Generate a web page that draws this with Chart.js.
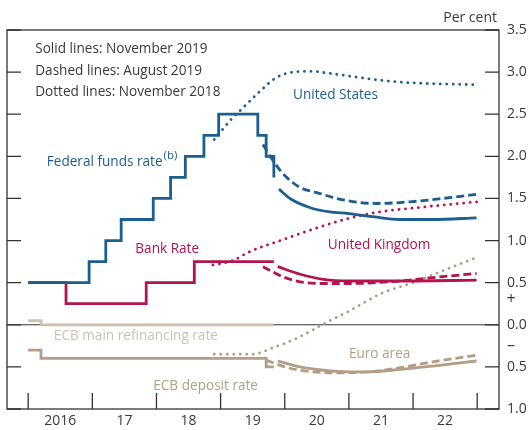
<!DOCTYPE html>
<html lang="en">

<head>
  <meta charset="UTF-8" />
  <title>Policy rates and forward curves</title>
  <script src="https://cdn.jsdelivr.net/npm/chart.js"></script>
  <style>
    html,
    body {
      margin: 0;
      padding: 0;
      background: #fff;
    }

    #wrap {
      width: 529px;
      height: 430px;
    }
  </style>
</head>

<body>
  <div id="wrap"><canvas id="ratesChart"></canvas></div>

  <script>
    // x values are decimal years
    const yearLabels = ['2016', '17', '18', '19', '20', '21', '22'];
    const yearStarts = [2016, 2017, 2018, 2019, 2020, 2021, 2022, 2023];

    // policy rates (step lines)
    const fedDates = [2016.0, 2016.95, 2017.21, 2017.45, 2017.95, 2018.22, 2018.45, 2018.74, 2018.97, 2019.58, 2019.71, 2019.83];
    const fedRate = [0.5, 0.75, 1.0, 1.25, 1.5, 1.75, 2.0, 2.25, 2.5, 2.25, 2.0, 1.75];
    const bankRateDates = [2016.0, 2016.59, 2017.84, 2018.59, 2019.83];
    const bankRate = [0.5, 0.25, 0.5, 0.75, 0.75];
    const ecbRefiDates = [2016.0, 2016.2, 2019.83];
    const ecbRefi = [0.05, 0.0, 0.0];
    const ecbDepositDates = [2016.0, 2016.2, 2019.71, 2019.83];
    const ecbDeposit = [-0.3, -0.4, -0.5, -0.5];

    // United States forward curves
    const usNov19Dates = [2019.91, 2020.1, 2020.4, 2020.7, 2021.0, 2021.4, 2021.8, 2022.3, 2022.99];
    const usNov19 = [1.61, 1.49, 1.39, 1.34, 1.32, 1.28, 1.25, 1.25, 1.27];
    const usAug19Dates = [2019.66, 2019.88, 2020.03, 2020.24, 2020.5, 2020.86, 2021.44, 2021.95, 2022.46, 2022.99];
    const usAug19 = [2.14, 1.88, 1.75, 1.63, 1.57, 1.49, 1.44, 1.46, 1.5, 1.55];
    const usNov18Dates = [2018.9, 2019.19, 2019.3, 2019.61, 2019.88, 2020.13, 2020.39, 2020.75, 2021.53, 2022.06, 2022.99];
    const usNov18 = [2.2, 2.46, 2.54, 2.77, 2.94, 3.0, 3.01, 2.98, 2.9, 2.87, 2.85];

    // United Kingdom forward curves
    const ukNov19Dates = [2019.89, 2020.24, 2020.6, 2021.02, 2021.8, 2022.99];
    const ukNov19 = [0.69, 0.6, 0.54, 0.52, 0.52, 0.53];
    const ukAug19Dates = [2019.66, 2019.97, 2020.24, 2020.55, 2021.02, 2021.8, 2022.31, 2022.99];
    const ukAug19 = [0.69, 0.57, 0.51, 0.49, 0.49, 0.52, 0.56, 0.61];
    const ukNov18Dates = [2018.88, 2019.18, 2019.46, 2019.97, 2020.5, 2020.98, 2021.48, 2022.06, 2022.99];
    const ukNov18 = [0.71, 0.76, 0.87, 1.01, 1.15, 1.26, 1.34, 1.39, 1.46];

    // Euro area forward curves
    const euNov19Dates = [2019.89, 2020.24, 2020.6, 2021.02, 2021.28, 2021.8, 2022.31, 2022.99];
    const euNov19 = [-0.43, -0.5, -0.54, -0.56, -0.56, -0.53, -0.49, -0.43];
    const euAug19Dates = [2019.71, 2020.0, 2020.24, 2020.75, 2021.28, 2021.8, 2022.31, 2022.99];
    const euAug19 = [-0.42, -0.5, -0.54, -0.57, -0.56, -0.51, -0.44, -0.36];
    const euNov18Dates = [2018.9, 2019.5, 2019.82, 2020.13, 2020.39, 2020.58, 2020.97, 2021.53, 2022.0, 2022.46, 2022.99];
    const euNov18 = [-0.35, -0.35, -0.27, -0.18, -0.08, 0.0, 0.15, 0.38, 0.5, 0.64, 0.8];

    const BLUE = '#1b5e90';
    const RED = '#b3134e';
    const TAN = '#b39d86';
    const TAN_LIGHT = '#cdc0b2';
    const TEXT = '#3a3a3a';
    const FONT = "'Open Sans', sans-serif";
    const NOTE_FONT = '13.6px ' + FONT;

    function pts(dates, values) {
      return dates.map((d, i) => ({ x: d, y: values[i] }));
    }

    function line(label, dates, values, color, style) {
      const ds = {
        label: label,
        data: pts(dates, values),
        borderColor: color,
        borderWidth: 2.8,
        pointRadius: 0,
        fill: false
      };
      if (style === 'step') {
        ds.stepped = true;
        ds.borderJoinStyle = 'miter';
      } else {
        ds.cubicInterpolationMode = 'monotone';
      }
      if (style === 'dashed') ds.borderDash = [8, 4];
      if (style === 'dotted') {
        ds.borderDash = [0.1, 6.4];
        ds.borderCapStyle = 'round';
      }
      return ds;
    }

    const notes = [
      { text: 'Solid lines: November 2019', x: 2016.11, y: 3.27, color: TEXT },
      { text: 'Dashed lines: August 2019', x: 2016.11, y: 3.01, color: TEXT },
      { text: 'Dotted lines: November 2018', x: 2016.11, y: 2.76, color: TEXT },
      { text: 'Federal funds rate', sup: '(b)', x: 2016.29, y: 1.93, color: BLUE },
      { text: 'United States', x: 2020.13, y: 2.73, color: BLUE },
      { text: 'Bank Rate', x: 2017.67, y: 0.9, color: RED },
      { text: 'United Kingdom', x: 2020.67, y: 0.95, color: RED },
      { text: 'ECB main refinancing rate', x: 2016.4, y: -0.14, color: TAN_LIGHT },
      { text: 'ECB deposit rate', x: 2017.95, y: -0.73, color: TAN },
      { text: 'Euro area', x: 2021.0, y: -0.35, color: TAN }
    ];

    const decorations = {
      id: 'decorations',
      beforeDatasetsDraw(chart) {
        const { ctx, chartArea: a, scales: { x, y } } = chart;
        ctx.save();
        ctx.strokeStyle = '#333';
        ctx.lineWidth = 1.3;
        ctx.strokeRect(a.left, a.top, a.right - a.left, a.bottom - a.top);

        // zero line
        const y0 = y.getPixelForValue(0);
        ctx.lineWidth = 1;
        ctx.beginPath();
        ctx.moveTo(a.left, y0);
        ctx.lineTo(a.right, y0);
        ctx.stroke();

        // tick marks drawn inside the frame
        ctx.lineWidth = 1.3;
        ctx.beginPath();
        y.ticks.forEach(t => {
          const py = y.getPixelForValue(t.value);
          ctx.moveTo(a.left, py);
          ctx.lineTo(a.left + 14, py);
          ctx.moveTo(a.right - 14, py);
          ctx.lineTo(a.right, py);
        });
        yearStarts.forEach(v => {
          const px = x.getPixelForValue(v);
          ctx.moveTo(px, a.bottom);
          ctx.lineTo(px, a.bottom - 16);
        });
        ctx.stroke();
        ctx.restore();
      },
      afterDatasetsDraw(chart) {
        const { ctx, chartArea: a, scales: { x, y } } = chart;
        ctx.save();
        ctx.textBaseline = 'middle';
        ctx.font = NOTE_FONT;
        notes.forEach(n => {
          const px = x.getPixelForValue(n.x);
          const py = y.getPixelForValue(n.y);
          ctx.fillStyle = n.color;
          ctx.textAlign = 'left';
          ctx.fillText(n.text, px, py);
          if (n.sup) {
            const w = ctx.measureText(n.text).width;
            ctx.font = '11.5px ' + FONT;
            ctx.fillText(n.sup, px + w + 1, py - 7);
            ctx.font = NOTE_FONT;
          }
        });

        // axis unit and sign markers
        ctx.fillStyle = TEXT;
        ctx.font = '14px ' + FONT;
        ctx.textAlign = 'right';
        ctx.fillText('Per cent', a.right - 2, a.top - 12);
        ctx.textAlign = 'center';
        ctx.font = '16px ' + FONT;
        ctx.fillText('+', a.right + 12, y.getPixelForValue(0.3));
        ctx.fillText('\u2013', a.right + 12, y.getPixelForValue(-0.25));
        ctx.restore();
      }
    };

    const datasets = [
      line('Federal funds rate', fedDates, fedRate, BLUE, 'step'),
      line('Bank Rate', bankRateDates, bankRate, RED, 'step'),
      line('ECB main refinancing rate', ecbRefiDates, ecbRefi, TAN_LIGHT, 'step'),
      line('ECB deposit rate', ecbDepositDates, ecbDeposit, TAN, 'step'),
      line('US Nov 2019', usNov19Dates, usNov19, BLUE, 'solid'),
      line('US Aug 2019', usAug19Dates, usAug19, BLUE, 'dashed'),
      line('US Nov 2018', usNov18Dates, usNov18, BLUE, 'dotted'),
      line('UK Nov 2019', ukNov19Dates, ukNov19, RED, 'solid'),
      line('UK Aug 2019', ukAug19Dates, ukAug19, RED, 'dashed'),
      line('UK Nov 2018', ukNov18Dates, ukNov18, RED, 'dotted'),
      line('Euro Nov 2019', euNov19Dates, euNov19, TAN, 'solid'),
      line('Euro Aug 2019', euAug19Dates, euAug19, TAN, 'dashed'),
      line('Euro Nov 2018', euNov18Dates, euNov18, TAN, 'dotted')
    ];

    const ctx = document.getElementById('ratesChart').getContext('2d');
    new Chart(ctx, {
      type: 'line',
      data: { datasets: datasets },
      plugins: [decorations],
      options: {
        responsive: true,
        maintainAspectRatio: false,
        animation: false,
        layout: { padding: { left: 7, top: 30, right: 0, bottom: 0 } },
        plugins: {
          legend: { display: false },
          tooltip: { enabled: false }
        },
        scales: {
          x: {
            type: 'linear',
            min: 2015.67,
            max: 2023.34,
            afterBuildTicks: s => {
              s.ticks = yearStarts.slice(0, -1).map(v => ({ value: v + 0.5 }));
            },
            afterFit: s => { s.height = 21; },
            grid: { display: false, drawTicks: false },
            border: { display: false },
            ticks: {
              autoSkip: false,
              maxRotation: 0,
              padding: 4,
              color: TEXT,
              font: { family: FONT, size: 14 },
              callback: (v, i) => yearLabels[i]
            }
          },
          y: {
            type: 'linear',
            position: 'right',
            min: -1,
            max: 3.5,
            afterFit: s => { s.width = 30; },
            grid: { display: false, drawTicks: false },
            border: { display: false },
            ticks: {
              stepSize: 0.5,
              padding: 8,
              color: TEXT,
              font: { family: FONT, size: 14 },
              callback: v => Math.abs(v).toFixed(1)
            }
          }
        }
      }
    });
  </script>
</body>

</html>
